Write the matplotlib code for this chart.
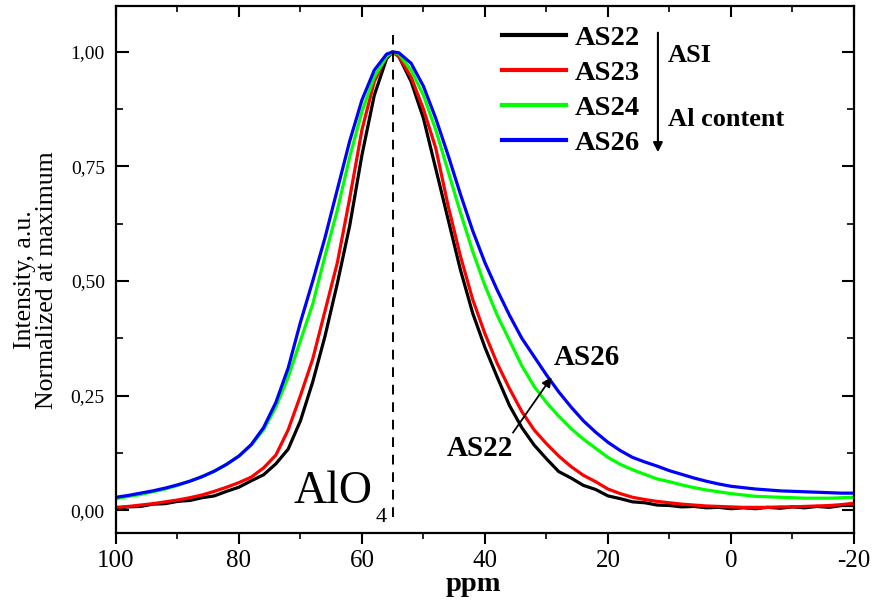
import matplotlib
matplotlib.use("Agg")
import matplotlib.pyplot as plt
from matplotlib.ticker import FixedLocator, FixedFormatter, MultipleLocator

plt.rcParams['font.family'] = ['Liberation Serif', 'DejaVu Serif']

ppm = [100, 98, 96, 94, 92, 90, 88, 86, 84, 82, 80, 78, 76, 74, 72, 70, 68, 66, 64, 62,
       60, 58, 56, 55, 54, 52, 50, 48, 46, 44, 42, 40, 38, 36, 34, 32, 30, 28, 26, 24,
       22, 20, 18, 16, 14, 12, 10, 8, 6, 4, 2, 0, -2, -4, -6, -8, -10, -12, -14, -16,
       -18, -20]

as22 = [0.004, 0.007, 0.008, 0.013, 0.014, 0.019, 0.021, 0.027, 0.031, 0.041, 0.050, 0.064, 0.077, 0.101, 0.133, 0.195, 0.280, 0.380, 0.495, 0.620,
        0.775, 0.905, 0.985, 1.000, 0.990, 0.935, 0.855, 0.745, 0.635, 0.525, 0.430, 0.355, 0.290, 0.228, 0.180, 0.142, 0.112, 0.084, 0.070, 0.054,
        0.045, 0.031, 0.025, 0.018, 0.016, 0.011, 0.010, 0.007, 0.008, 0.005, 0.006, 0.003, 0.005, 0.003, 0.006, 0.004, 0.007, 0.005, 0.008, 0.006,
        0.010, 0.010]
as23 = [0.006, 0.008, 0.011, 0.014, 0.018, 0.022, 0.027, 0.033, 0.041, 0.050, 0.060, 0.072, 0.092, 0.120, 0.175, 0.250, 0.330, 0.435, 0.540, 0.680,
        0.830, 0.935, 0.990, 1.000, 0.990, 0.945, 0.875, 0.790, 0.665, 0.555, 0.460, 0.385, 0.320, 0.265, 0.215, 0.175, 0.145, 0.118, 0.095, 0.076,
        0.062, 0.046, 0.036, 0.028, 0.023, 0.019, 0.016, 0.013, 0.011, 0.009, 0.008, 0.007, 0.006, 0.006, 0.006, 0.007, 0.007, 0.008, 0.009, 0.010,
        0.012, 0.015]
as24 = [0.025, 0.030, 0.034, 0.040, 0.046, 0.054, 0.063, 0.073, 0.085, 0.100, 0.118, 0.142, 0.175, 0.225, 0.290, 0.370, 0.450, 0.555, 0.655, 0.770,
        0.870, 0.945, 0.990, 1.000, 0.995, 0.960, 0.905, 0.830, 0.740, 0.650, 0.565, 0.490, 0.425, 0.370, 0.315, 0.270, 0.235, 0.205, 0.178, 0.155,
        0.135, 0.115, 0.100, 0.088, 0.078, 0.068, 0.062, 0.055, 0.049, 0.044, 0.040, 0.036, 0.033, 0.030, 0.029, 0.028, 0.027, 0.026, 0.026, 0.026,
        0.027, 0.028]
as26 = [0.028, 0.032, 0.037, 0.042, 0.048, 0.055, 0.063, 0.073, 0.085, 0.100, 0.118, 0.143, 0.180, 0.235, 0.310, 0.410, 0.500, 0.595, 0.700, 0.805,
        0.895, 0.960, 0.995, 1.000, 0.998, 0.975, 0.925, 0.855, 0.775, 0.690, 0.610, 0.540, 0.480, 0.425, 0.375, 0.335, 0.295, 0.258, 0.225, 0.195,
        0.170, 0.148, 0.130, 0.115, 0.105, 0.096, 0.086, 0.078, 0.070, 0.063, 0.057, 0.052, 0.049, 0.046, 0.044, 0.042, 0.041, 0.040, 0.039, 0.038,
        0.037, 0.037]

series_names = ['AS22', 'AS23', 'AS24', 'AS26']
series_colors = ['#000000', '#ff0000', '#00ff00', '#0000ff']

xticks = [100, 80, 60, 40, 20, 0, -20]
xticklabels = ['100', '80', '60', '40', '20', '0', '-20']
yticks = [0.0, 0.25, 0.5, 0.75, 1.0]
yticklabels = ['0,00', '0,25', '0,50', '0,75', '1,00']

fig = plt.figure(figsize=(8.74, 6.05), dpi=100)
ax = fig.add_axes([0.1327, 0.119, 0.977 - 0.1327, 0.990 - 0.119])

for vals, name, col in zip([as22, as23, as24, as26], series_names, series_colors):
    ax.plot(ppm, vals, color=col, lw=2.3, label=name, solid_joinstyle='round')

ax.set_xlim(100, -20)
ax.set_ylim(-0.05, 1.10)

ax.xaxis.set_major_locator(FixedLocator(xticks))
ax.xaxis.set_major_formatter(FixedFormatter(xticklabels))
ax.xaxis.set_minor_locator(MultipleLocator(10))
ax.yaxis.set_major_locator(FixedLocator(yticks))
ax.yaxis.set_major_formatter(FixedFormatter(yticklabels))
ax.yaxis.set_minor_locator(MultipleLocator(0.125))

ax.tick_params(axis='x', which='major', direction='out', length=8, width=1.5, labelsize=18, pad=4)
ax.tick_params(axis='x', which='minor', direction='out', length=4, width=1.2)
ax.tick_params(axis='y', which='major', direction='in', length=9, width=1.5, labelsize=14, pad=8)
ax.tick_params(axis='y', which='minor', direction='in', length=5, width=1.2)
ax.tick_params(which='both', top=True, right=True)
for t in ax.xaxis.get_major_ticks() + ax.xaxis.get_minor_ticks():
    t.tick2line.set_marker(3)
for s in ax.spines.values():
    s.set_linewidth(1.6)

ax.set_xlabel('ppm', fontsize=20.5, fontweight='bold', va='top')
ax.xaxis.set_label_coords(0.485, -0.074)
ax.set_ylabel('Intensity, a.u.\nNormalized at maximum', fontsize=18.5, linespacing=1.0)
ax.yaxis.set_label_coords(-0.079, 0.48)

# dashed reference line
ax.plot([55, 55], [-0.015, 1.037], color='black', lw=1.4, ls=(0, (5, 4)))
ax.text(71.2, 0.015, 'AlO', fontsize=33, ha='left', va='baseline')
ax.text(55.9, -0.026, '4', fontsize=16, ha='right', va='baseline')

# annotation arrow
ax.annotate('', xy=(28.9, 0.295), xytext=(35.7, 0.164),
            arrowprops=dict(arrowstyle='-|>', color='black', lw=1.3, mutation_scale=14))
ax.text(40.8, 0.135, 'AS22', fontsize=21, fontweight='bold', ha='center', va='center')
ax.text(23.4, 0.332, 'AS26', fontsize=21, fontweight='bold', ha='center', va='center')

leg = ax.legend(loc='upper left', bbox_to_anchor=(0.5, 0.997), frameon=False,
                prop={'size': 20.5, 'weight': 'bold'}, handlelength=2.25, handletextpad=0.3,
                labelspacing=0.32, borderaxespad=0.2)
for l in leg.get_lines():
    l.set_linewidth(3)

# ASI / Al content arrow
ax.annotate('', xy=(11.87, 0.775), xytext=(11.87, 1.048),
            arrowprops=dict(arrowstyle='-|>', color='black', lw=1.5, mutation_scale=14))
ax.text(10.2, 0.993, 'ASI', fontsize=19, fontweight='bold', ha='left', va='center')
ax.text(10.2, 0.852, 'Al content', fontsize=19, fontweight='bold', ha='left', va='center')

fig.savefig('out.png', dpi=100)
